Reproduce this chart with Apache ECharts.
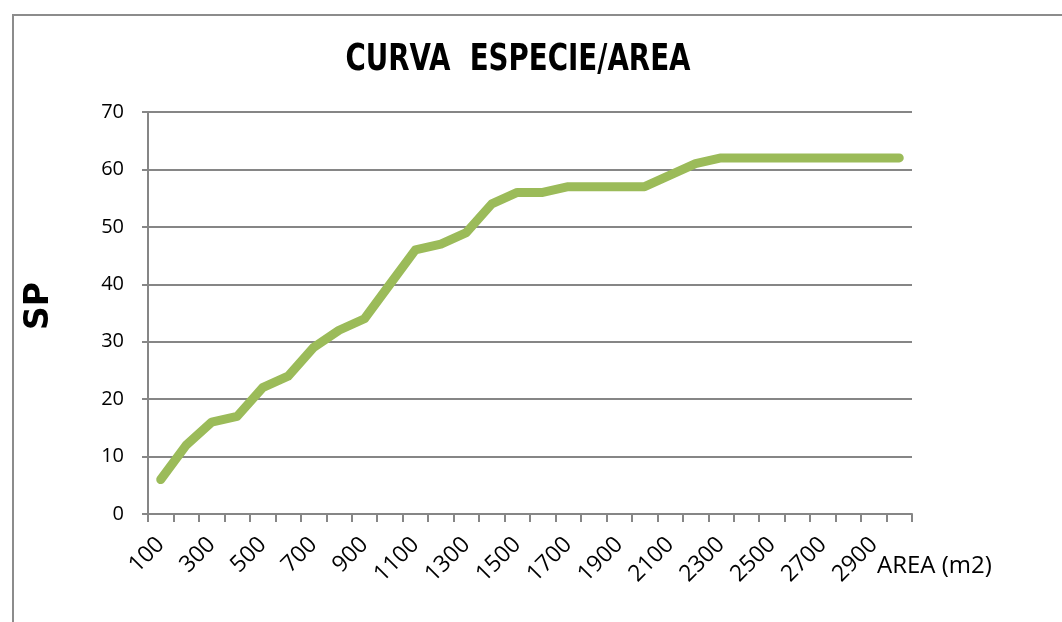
<!DOCTYPE html>
<html>
<head>
<meta charset="utf-8">
<script src="https://cdn.jsdelivr.net/npm/echarts@6/dist/echarts.min.js"></script>
<style>
  html, body { margin: 0; padding: 0; background: #fff; }
  #frame { position: absolute; left: 12px; top: 14px; width: 1060px; height: 620px; border: 2px solid #8c8c8c; box-sizing: border-box; }
  #chart { position: absolute; left: 0; top: 0; width: 1062px; height: 622px; }
</style>
</head>
<body>
<div id="frame"></div>
<div id="chart"></div>
<script>
// area (m2) and species count
const areas = ['100', '200', '300', '400', '500', '600', '700', '800', '900', '1000',
  '1100', '1200', '1300', '1400', '1500', '1600', '1700', '1800', '1900', '2000',
  '2100', '2200', '2300', '2400', '2500', '2600', '2700', '2800', '2900', '3000'];
const species = [6, 12, 16, 17, 22, 24, 29, 32, 34, 40, 46, 47, 49, 54, 56, 56, 57, 57, 57, 57,
  59, 61, 62, 62, 62, 62, 62, 62, 62, 62];

const chart = echarts.init(document.getElementById('chart'));

chart.setOption({
  animation: false,
  graphic: [
    {
      // title, squeezed to look like the condensed original
      type: 'text',
      x: 518,
      y: 60,
      scaleX: 0.81,
      style: {
        text: 'CURVA  ESPECIE/AREA',
        font: 'bold 38px "DejaVu Sans Condensed"',
        fill: '#000',
        align: 'center',
        verticalAlign: 'middle'
      }
    },
    {
      type: 'text',
      left: 877,
      top: 554,
      style: { text: 'AREA (m2)', font: '24px "Open Sans"', fill: '#000' }
    }
  ],
  grid: { left: 148, right: 150, top: 112, bottom: 108 },
  xAxis: {
    type: 'category',
    data: areas,
    boundaryGap: true,
    axisLine: { lineStyle: { color: '#868686', width: 2 } },
    axisTick: { show: true, interval: 0, length: 8, lineStyle: { color: '#868686', width: 2 } },
    axisLabel: { interval: 1, rotate: 45, fontFamily: 'Open Sans', fontSize: 23, color: '#000', margin: 27 }
  },
  yAxis: {
    type: 'value',
    min: 0,
    max: 70,
    interval: 10,
    name: 'SP',
    nameLocation: 'middle',
    nameGap: 92,
    nameTextStyle: { fontFamily: 'DejaVu Sans', fontSize: 33, fontWeight: 'bold', color: '#000', padding: [0, 0, 0, 14] },
    axisLine: { show: true, lineStyle: { color: '#868686', width: 2 } },
    axisTick: { show: true, length: 6, lineStyle: { color: '#868686', width: 2 } },
    axisLabel: { fontFamily: 'Open Sans', fontSize: 20, color: '#000', margin: 24 },
    splitLine: { lineStyle: { color: '#868686', width: 2 } }
  },
  series: [{
    type: 'line',
    data: species,
    showSymbol: false,
    lineStyle: { color: '#9BBB59', width: 9, cap: 'round', join: 'round' }
  }]
});
</script>
</body>
</html>
